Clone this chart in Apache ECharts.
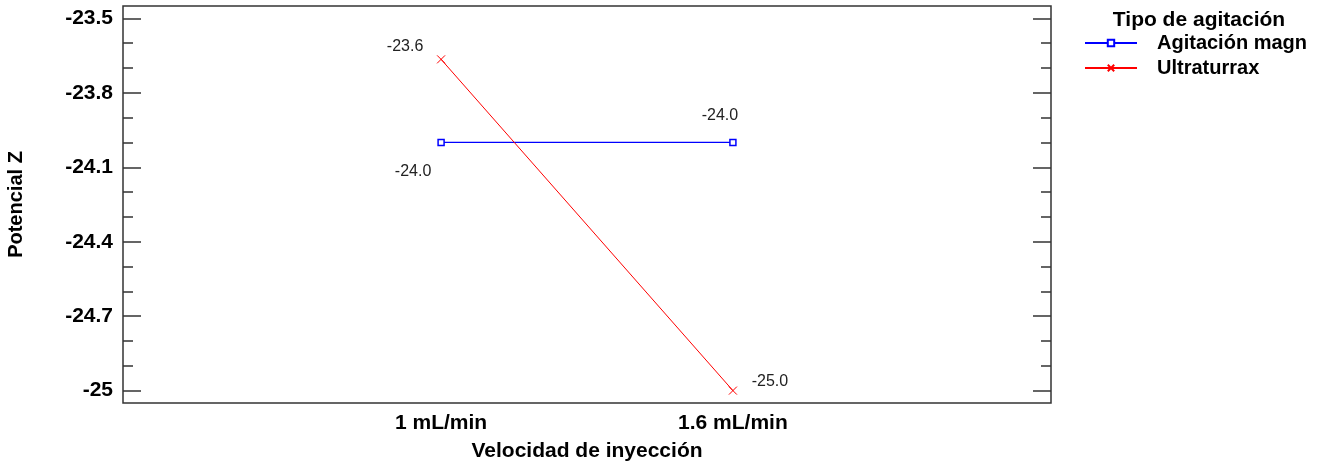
<!DOCTYPE html>
<html>
<head>
<meta charset="utf-8">
<script src="https://cdn.jsdelivr.net/npm/echarts@6/dist/echarts.min.js"></script>
<style>
html,body{margin:0;padding:0;background:#fff;}
#chart{width:1317px;height:462px;}
</style>
</head>
<body>
<div id="chart"></div>
<script>
// ---- data ----
const categories = ['1 mL/min', '1.6 mL/min'];
const seriesNames = ['Agitación magn', 'Ultraturrax'];
const agitacionMagn = [-24.0, -24.0];
const ultraturrax = [-23.665, -25.0];
const yTickValues = [-25, -24.7, -24.4, -24.1, -23.8, -23.5];
const yTickLabels = ['-25', '-24.7', '-24.4', '-24.1', '-23.8', '-23.5'];
const legendTitle = 'Tipo de agitación';
const xTitle = 'Velocidad de inyección';
const yTitle = 'Potencial Z';

// ---- helpers ----
const yMin = -25.05, yMax = -23.45;
const minorVals = [];
for (let i = 0; i < yTickValues.length - 1; i++) {
  const a = yTickValues[i], b = yTickValues[i + 1];
  minorVals.push(+(a + (b - a) / 3).toFixed(3), +(a + 2 * (b - a) / 3).toFixed(3));
}
function yLabel(v) {
  let best = 0;
  yTickValues.forEach((t, i) => { if (Math.abs(t - v) < Math.abs(yTickValues[best] - v)) best = i; });
  return yTickLabels[best];
}
function trunc1(v) {
  const t = Math.trunc(v * 10) / 10;
  return t.toFixed(1);
}
const font = 'Liberation Sans, Arial, sans-serif';
const axisColor = '#333';

function tickAx(pos, vals, len) {
  return {
    type: 'value', position: pos, offset: 0, min: yMin, max: yMax,
    axisLine: { show: false },
    splitLine: { show: false },
    axisTick: { show: true, inside: true, length: len, customValues: vals,
      lineStyle: { color: axisColor, width: 1.5 } },
    axisLabel: { show: false }
  };
}

function makeData(vals) {
  return vals.map((v, i) => [i + 1, v]);
}

const crossPath = 'path://M0,0L10,10M10,0L0,10';

const option = {
  animation: false,
  backgroundColor: '#fff',
  title: {
    text: legendTitle, left: 1194, top: 5, textAlign: 'center',
    textStyle: { fontFamily: font, fontWeight: 'bold', fontSize: 21, color: '#000' }
  },
  legend: {
    left: 1079, top: 28, orient: 'vertical', itemGap: 5,
    itemWidth: 52, itemHeight: 8,
    textStyle: { fontFamily: font, fontWeight: 'bold', fontSize: 20, color: '#000', padding: [0, 0, 0, 15] },
    data: seriesNames
  },
  grid: {
    left: 123, right: 266, top: 6, bottom: 59,
    show: true, borderColor: axisColor, borderWidth: 1.5, backgroundColor: '#fff',
    containLabel: false, outerBoundsMode: 'none'
  },
  xAxis: {
    type: 'value', min: -0.09, max: 3.09,
    axisLine: { show: false }, splitLine: { show: false },
    axisTick: { show: false },
    axisLabel: {
      customValues: [1, 2], formatter: v => categories[Math.round(v) - 1] || '',
      margin: 10, fontFamily: font, fontWeight: 'bold', fontSize: 21, color: '#000'
    },
    name: xTitle, nameLocation: 'middle', nameGap: 38,
    nameTextStyle: { fontFamily: font, fontWeight: 'bold', fontSize: 21, color: '#000' }
  },
  yAxis: [
    {
      type: 'value', position: 'left', offset: 0, min: yMin, max: yMax,
      axisLine: { show: false }, splitLine: { show: false },
      axisTick: { show: false },
      axisLabel: {
        show: true, customValues: yTickValues, formatter: yLabel, margin: 10,
        fontFamily: font, fontWeight: 'bold', fontSize: 21, color: '#000'
      },
      name: yTitle, nameLocation: 'middle', nameGap: 97, nameRotate: 90,
      nameTextStyle: { fontFamily: font, fontWeight: 'bold', fontSize: 20, color: '#000' }
    },
    tickAx('left', yTickValues, 18),
    tickAx('left', minorVals, 10),
    tickAx('right', yTickValues, 18),
    tickAx('right', minorVals, 10)
  ],
  series: [
    {
      name: seriesNames[0], type: 'line', yAxisIndex: 0,
      data: makeData(agitacionMagn),
      symbol: 'rect', symbolSize: 6,
      itemStyle: { color: '#fff', borderColor: '#0000ff', borderWidth: 1.5 },
      lineStyle: { color: '#0000ff', width: 1.3 },
      label: {
        show: true, position: 'inside', fontFamily: font, fontSize: 16, color: '#222',
        formatter: p => trunc1(p.value[1])
      },
      labelLayout: (p) => {
        const offs = [[-28, 29], [-13, -27]];
        const o = offs[p.dataIndex];
        return { dx: o[0], dy: o[1] };
      }
    },
    {
      name: seriesNames[1], type: 'line', yAxisIndex: 0,
      data: makeData(ultraturrax),
      symbol: crossPath, symbolSize: 8,
      itemStyle: { color: '#ff0000', borderColor: '#ff0000', borderWidth: 1 },
      lineStyle: { color: '#ff0000', width: 1 },
      label: {
        show: true, position: 'inside', fontFamily: font, fontSize: 16, color: '#222',
        formatter: p => trunc1(p.value[1])
      },
      labelLayout: (p) => {
        const offs = [[-36, -13], [37, -9]];
        const o = offs[p.dataIndex];
        return { dx: o[0], dy: o[1] };
      }
    }
  ]
};

const chart = echarts.init(document.getElementById('chart'), null, { renderer: 'canvas' });
chart.setOption(option);
</script>
</body>
</html>
